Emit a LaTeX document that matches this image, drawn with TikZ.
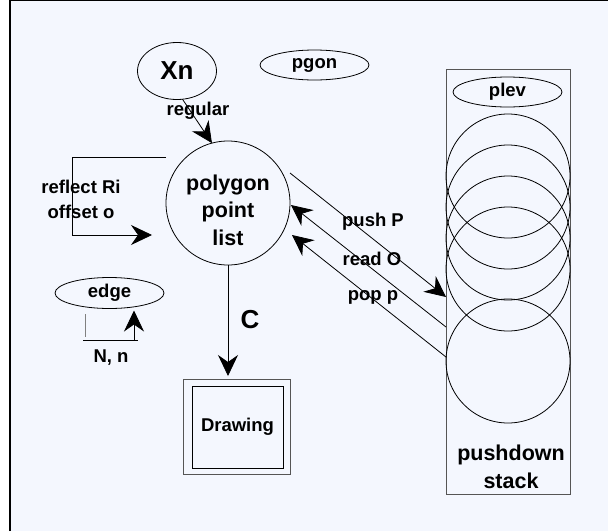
\documentclass[tikz,border=0pt]{standalone}
\usepackage{fontspec}
\setmainfont{Liberation Sans}
\usetikzlibrary{shapes.geometric,arrows.meta}
\definecolor{bg}{RGB}{244,247,254}
\definecolor{framegray}{RGB}{85,85,85}
\begin{document}
\begin{tikzpicture}[x=1pt,y=-1pt,
  every node/.style={inner sep=0pt, outer sep=0pt},
  lbl/.style={font=\fontsize{18.5}{25}\selectfont\bfseries, anchor=base},
  mlbl/.style={font=\fontsize{18.5}{25}\selectfont\bfseries, align=center},
  big/.style={font=\fontsize{21.5}{27.5}\selectfont\bfseries, align=center},
  huge/.style={font=\fontsize{26}{30}\selectfont\bfseries},
  shp/.style={draw, line width=0.8pt},
  ell/.style={shp, ellipse, font=\fontsize{18.5}{25}\selectfont\bfseries},
  stackcirc/.style={shp, circle, minimum size=124pt},
  arr/.style={line width=0.8pt, -{Stealth[length=21pt,width=20pt,inset=7pt]}},
  ln/.style={line width=0.8pt}
]
\useasboundingbox (0,0) rectangle (608,531);
\fill[bg] (10,0) rectangle (608,531);
\draw[line width=2pt] (10,531) -- (10,0) -- (608,0);

% main nodes
\node[shp, ellipse, minimum width=79pt, minimum height=57pt, huge] (xn) at (177,71) {Xn};
\node[ell, minimum width=109pt, minimum height=30pt] (pgon) at (314.5,65) {pgon};
\node[shp, circle, minimum size=124pt] (poly) at (228,203) {};
\node[big] (polytext) at (228,210) {polygon\\point\\list};
\node[ell, minimum width=109pt, minimum height=31pt] (edge) at (109.5,293) {edge};

% drawing box
\node[draw, line width=0.8pt, color=framegray, minimum width=107pt, minimum height=95pt] (drawing) at (236.5,426.5) {};
\node[draw, line width=0.8pt, minimum width=91pt, minimum height=82pt, font=\fontsize{18.5}{25}\selectfont\bfseries] (drawingin) at (237.5,427) {Drawing};

% stack
\node[draw, line width=1pt, color=framegray, minimum width=124pt, minimum height=425pt] (stack) at (508,281.5) {};
\node[ell, minimum width=109pt, minimum height=30pt] (plev) at (507.5,92) {plev};
\node[stackcirc] (s1) at (508,176) {};
\node[stackcirc] (s2) at (508,207) {};
\node[stackcirc] (s3) at (508,238) {};
\node[stackcirc] (s4) at (508,269) {};
\node[stackcirc] (s5) at (508,361) {};
\node[big] (stacktext) at (511,467) {pushdown\\stack};

% regular
\draw[arr] (xn.-79) -- (poly.105);
\node[lbl] (regular) at (198,115) {regular};

% reflect loop
\coordinate (rA) at (166,157);
\coordinate (rB) at (152,235);
\draw[arr] (rA) -- (72,157) -- (72,235) -- (rB);
\node[mlbl] (reflect) at (81,199) {reflect Ri\\offset o};

% stack arrows
\coordinate (pushA) at (290,173);
\coordinate (pushB) at (446,297);
\coordinate (readA) at (446,327);
\coordinate (readB) at (291,205);
\coordinate (popA) at (446,357);
\coordinate (popB) at (292,235);
\draw[arr] (pushA) -- (pushB);
\draw[arr] (readA) -- (readB);
\draw[arr] (popA) -- (popB);
\node[lbl] (pushP) at (373,226) {push P};
\node[lbl] (readO) at (372,265) {read O};
\node[lbl] (popp) at (373,300) {pop p};

% C arrow
\draw[arr] (poly.south) -- ([yshift=3pt]poly.south |- drawing.north);
\node[huge, anchor=base] (C) at (250,328) {C};

% edge loop
\coordinate (eA) at (85,314);
\coordinate (eB) at (85,337);
\coordinate (eC) at (83,340);
\coordinate (eD) at (138,340);
\coordinate (eE) at (134,340);
\draw[ln, color=gray] (eA) -- (eB);
\draw[ln] (eC) -- (eD);
\draw[arr] (eE) -- ([yshift=-2pt]eE |- edge.south);
\node[lbl] (Nn) at (111,362) {N, n};
\end{tikzpicture}
\end{document}
